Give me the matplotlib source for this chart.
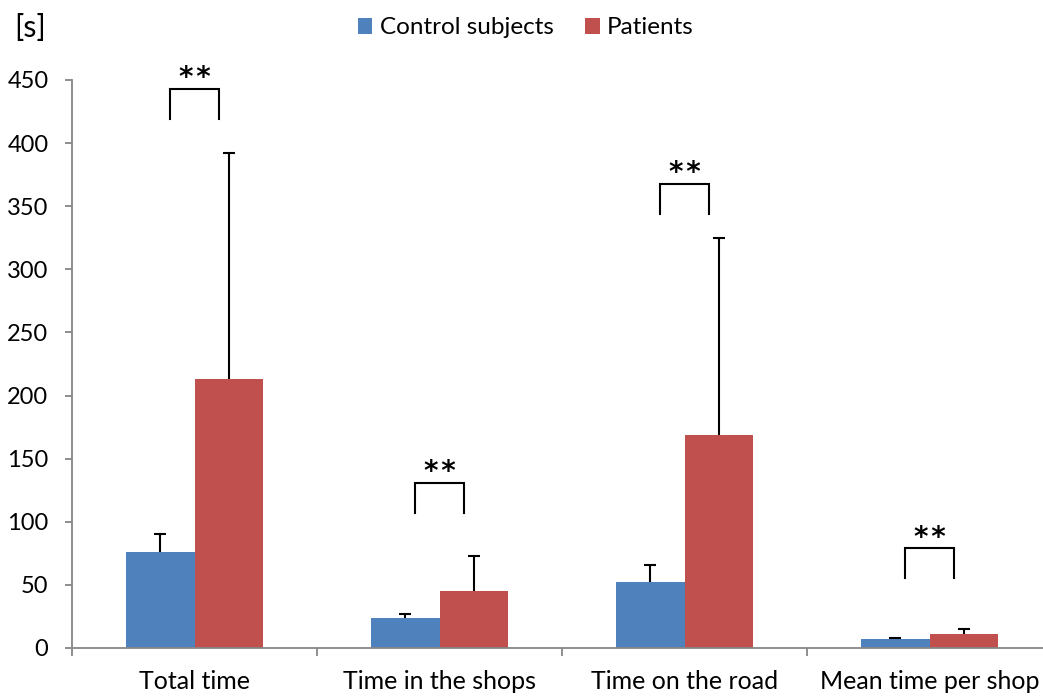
import matplotlib
matplotlib.use("Agg")
import matplotlib.pyplot as plt
import numpy as np
from matplotlib.patches import Patch

plt.rcParams['font.family'] = ['Lato', 'DejaVu Sans']

# Data
categories = ["Total time", "Time in the shops", "Time on the road", "Mean time per shop"]
control_mean = [76, 24, 52.5, 7]
control_sd = [14, 3, 13, 1.3]
patients_mean = [213, 45.5, 169, 11]
patients_sd = [179, 27.5, 156, 4.2]
significance = ["**", "**", "**", "**"]
bracket_top = [443, 131, 368, 79]
series_names = ["Control subjects", "Patients"]
y_ticks = [0, 50, 100, 150, 200, 250, 300, 350, 400, 450]
unit_label = "[s]"

BLUE = "#4F81BD"
RED = "#C0504D"
AXIS_GREY = "#868686"

fig = plt.figure(figsize=(10.43, 6.96), dpi=100)
ax = fig.add_axes([72 / 1043, 1 - 648 / 696, 980 / 1043, (648 - 80) / 696])

n = len(categories)
centers = np.arange(n) + 0.5
w = 0.2816


def bars_with_sd(x, mean, sd, color):
    ax.bar(x, mean, w, color=color, edgecolor="none", zorder=2)
    # one-sided (upper) standard deviation whiskers
    _, caps, _ = ax.errorbar(x, mean, yerr=[np.zeros(len(sd)), sd], fmt="none",
                             ecolor="black", elinewidth=1.5, capsize=4.3,
                             capthick=1.5, zorder=3)
    caps[0].set_visible(False)


bars_with_sd(centers - w / 2, control_mean, control_sd, BLUE)
bars_with_sd(centers + w / 2, patients_mean, patients_sd, RED)

# Significance brackets
half = 0.102
leg = 23.8
for c, top, s in zip(centers, bracket_top, significance):
    ax.plot([c - half, c - half, c + half, c + half],
            [top - leg, top, top, top - leg], color="black", lw=1.5,
            solid_joinstyle="miter", clip_on=False, zorder=3)
    ax.text(c, top + 2, "\u200a".join(s), ha="center", va="baseline",
            fontsize=20, fontweight="bold", fontfamily="DejaVu Sans",
            clip_on=False)

ax.set_xlim(0, n)
ax.set_ylim(0, 450)
ax.set_yticks(y_ticks)
ax.set_yticklabels([str(t) for t in y_ticks])
ax.set_xticks(centers)
ax.set_xticklabels(categories)
ax.set_xticks(np.arange(n + 1), minor=True)

for side in ["top", "right"]:
    ax.spines[side].set_visible(False)
for side in ["left", "bottom"]:
    ax.spines[side].set_color(AXIS_GREY)
    ax.spines[side].set_linewidth(1.3)

ax.tick_params(axis="y", which="major", direction="out", length=5, width=1.3,
               color=AXIS_GREY, labelsize=17, pad=12, labelcolor="black")
ax.tick_params(axis="x", which="major", length=0, labelsize=18, pad=16,
               labelcolor="black")
ax.tick_params(axis="x", which="minor", direction="out", length=6, width=1.3,
               color=AXIS_GREY)

fig.text(14 / 1043, 1 - 28 / 696, unit_label, fontsize=22, va="center", ha="left")

handles = [Patch(facecolor=BLUE, edgecolor="none"), Patch(facecolor=RED, edgecolor="none")]
fig.legend(handles, series_names, loc="center", bbox_to_anchor=(0.504, 1 - 28 / 696),
           ncol=2, frameon=False, fontsize=17.5, handlelength=0.6, handleheight=0.6,
           handletextpad=0.3, columnspacing=1.3)

fig.savefig("out.png", dpi=100)
